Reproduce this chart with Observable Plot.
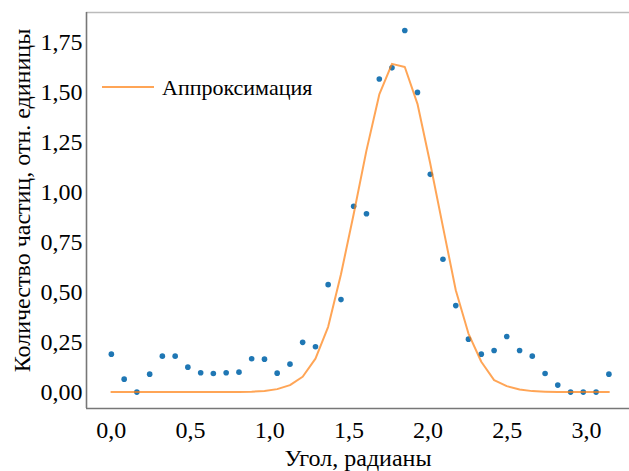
<!DOCTYPE html>
<html>
<head>
<meta charset="utf-8">
<script src="https://cdn.jsdelivr.net/npm/d3@7"></script>
<script src="https://cdn.jsdelivr.net/npm/@observablehq/plot@0.6"></script>
<style>
  body { margin: 0; background: #fff; }
  #chart { position: relative; width: 629px; height: 471px; }
</style>
</head>
<body>
<div id="chart"></div>
<script>
// Angle values (radians)
const angles = [0.000, 0.081, 0.161, 0.242, 0.322, 0.403, 0.483, 0.564, 0.644, 0.725,
                0.806, 0.886, 0.967, 1.047, 1.128, 1.208, 1.289, 1.369, 1.450, 1.530,
                1.611, 1.692, 1.772, 1.853, 1.933, 2.014, 2.094, 2.175, 2.255, 2.336,
                2.417, 2.497, 2.578, 2.658, 2.739, 2.819, 2.900, 2.980, 3.061, 3.142];
// Measured particle counts (relative units)
const counts = [0.19, 0.065, 0.0, 0.09, 0.18, 0.18, 0.125, 0.097, 0.093, 0.097,
                0.10, 0.167, 0.165, 0.095, 0.14, 0.249, 0.227, 0.538, 0.463, 0.93,
                0.893, 1.567, 1.623, 1.81, 1.50, 1.09, 0.665, 0.433, 0.265, 0.19,
                0.208, 0.278, 0.208, 0.18, 0.093, 0.035, 0.0, 0.0, 0.0, 0.09];
// Approximation curve values
const fitValues = [0, 0, 0, 0, 0, 0, 0, 0, 0, 0,
                   0, 0.002, 0.006, 0.015, 0.035, 0.077, 0.168, 0.327, 0.59, 0.89,
                   1.21, 1.49, 1.643, 1.627, 1.443, 1.143, 0.827, 0.51, 0.293, 0.152,
                   0.06, 0.03, 0.013, 0.005, 0.002, 0, 0, 0, 0, 0];
const xTicks = [0, 0.5, 1.0, 1.5, 2.0, 2.5, 3.0];
const yTicks = [0, 0.25, 0.5, 0.75, 1.0, 1.25, 1.5, 1.75];
const xLabel = "Угол, радианы";
const yLabel = "Количество частиц, отн. единицы";
const legendLabel = "Аппроксимация";

const points = angles.map((a, i) => ({angle: a, count: counts[i]}));
const fit = angles.map((a, i) => ({angle: a, value: fitValues[i]}));

const xDomain = [-0.157, 3.272];
const yDomain = [-0.082, 1.90];
const fmt = (digits) => (d) => d.toFixed(digits).replace(".", ",");

const font = "'Liberation Serif', 'Times New Roman', serif";

const chart = Plot.plot({
  width: 629,
  height: 471,
  marginLeft: 86,
  marginRight: 0,
  marginTop: 12,
  marginBottom: 63,
  style: {fontFamily: font, background: "#fff", color: "#000"},
  x: {domain: xDomain},
  y: {domain: yDomain},
  marks: [
    Plot.axisX({ticks: xTicks, tickFormat: fmt(1), tickSize: 0, tickPadding: 12, fontSize: 24,
      label: xLabel, labelAnchor: "center", labelArrow: "none", labelOffset: 57}),
    Plot.axisY({ticks: yTicks, tickFormat: fmt(2), tickSize: 0, tickPadding: 4, fontSize: 24,
      label: null}),
    Plot.text([yLabel], {text: d => d, frameAnchor: "left", textAnchor: "middle", lineAnchor: "middle",
      rotate: -90, dx: -64, dy: -10, fontSize: 24, fill: "#000"}),
    Plot.ruleY([yDomain[1]], {stroke: "#bbbbbb", strokeWidth: 1.5}),
    Plot.ruleX([xDomain[0]], {stroke: "#777777", strokeWidth: 1.6}),
    Plot.ruleY([yDomain[0]], {stroke: "#777777", strokeWidth: 1.6}),
    Plot.dot(points, {x: "angle", y: "count", r: 2.8, fill: "#1f77b4", stroke: "none"}),
    Plot.line(fit, {x: "angle", y: "value", stroke: "#ff7f0e", strokeOpacity: 0.7, strokeWidth: 2})
  ]
});

// Legend (line entry only, inside the plot area)
const ns = "http://www.w3.org/2000/svg";
const lg = document.createElementNS(ns, "g");
const ln = document.createElementNS(ns, "line");
ln.setAttribute("x1", 102); ln.setAttribute("x2", 154);
ln.setAttribute("y1", 87); ln.setAttribute("y2", 87);
ln.setAttribute("stroke", "#ff7f0e"); ln.setAttribute("stroke-opacity", "0.7");
ln.setAttribute("stroke-width", "2");
const tx = document.createElementNS(ns, "text");
tx.setAttribute("x", 162); tx.setAttribute("y", 87); tx.setAttribute("dy", "0.35em");
tx.setAttribute("text-anchor", "start");
tx.setAttribute("font-size", "22"); tx.setAttribute("font-family", font);
tx.setAttribute("fill", "#000");
tx.textContent = legendLabel;
lg.appendChild(ln); lg.appendChild(tx);
chart.appendChild(lg);

document.getElementById("chart").appendChild(chart);
</script>
</body>
</html>
